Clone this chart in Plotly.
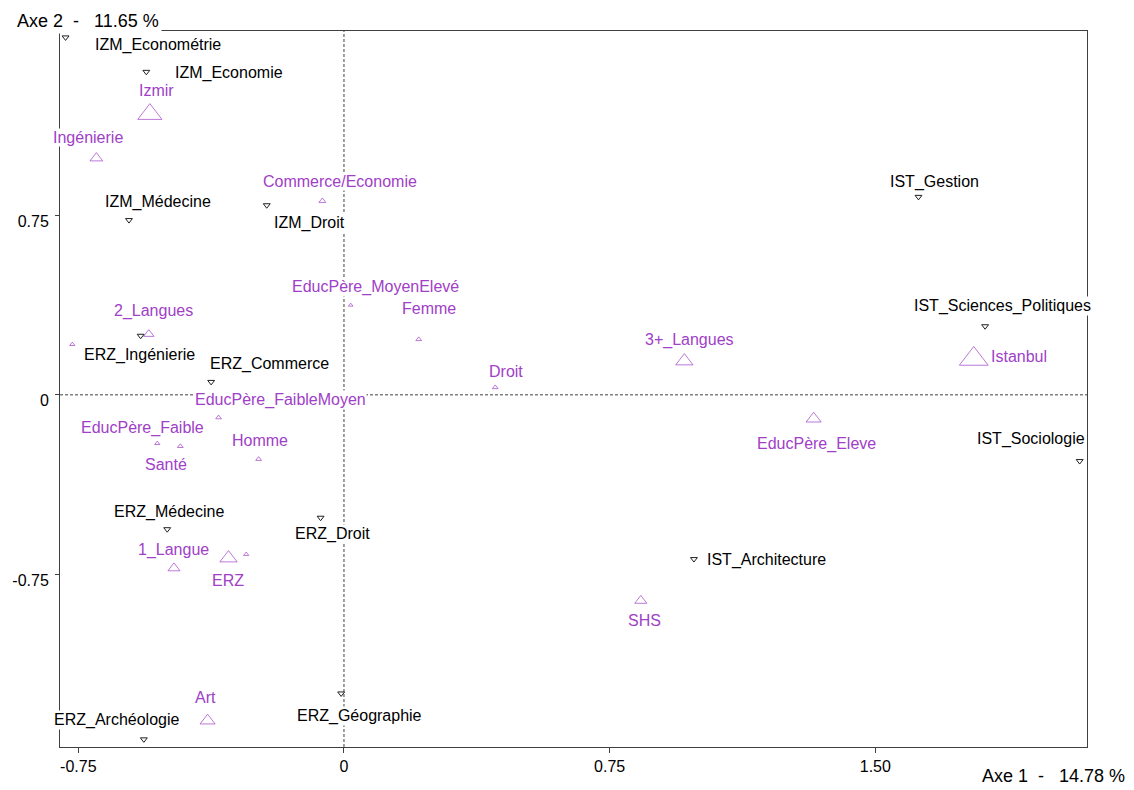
import plotly.graph_objects as go

# Etablissements (modalites actives) : coordonnees sur axe 1 / axe 2
inst_names = [
    "IZM_Econométrie", "IZM_Economie", "IZM_Médecine", "IZM_Droit",
    "ERZ_Ingénierie", "ERZ_Commerce", "ERZ_Médecine", "ERZ_Droit",
    "ERZ_Géographie", "ERZ_Archéologie",
    "IST_Gestion", "IST_Sciences_Politiques", "IST_Sociologie", "IST_Architecture",
]
inst_x = [-0.786, -0.558, -0.607, -0.218, -0.574, -0.375, -0.499, -0.066,
          -0.008, -0.565, 1.622, 1.810, 2.077, 0.988]
inst_y = [1.495, 1.351, 0.731, 0.793, 0.247, 0.054, -0.562, -0.514,
          -1.249, -1.441, 0.828, 0.287, -0.277, -0.687]

# Variables supplementaires
sup_names = [
    "Izmir", "Ingénierie", "Commerce/Economie", "EducPère_MoyenElevé", "Femme",
    "Droit", "2_Langues", "EducPère_FaibleMoyen", "EducPère_Faible", "Santé",
    "Homme", "1_Langue", "ERZ", "Art", "SHS", "3+_Langues", "EducPère_Eleve",
    "Istanbul", "", "",
]
sup_x = [-0.548, -0.699, -0.061, 0.019, 0.211, 0.427, -0.551, -0.354, -0.527, -0.462,
         -0.241, -0.480, -0.326, -0.385, 0.838, 0.961, 1.326, 1.778, -0.767, -0.276]
sup_y = [1.174, 0.990, 0.811, 0.375, 0.232, 0.031, 0.254, -0.095, -0.203, -0.215,
         -0.269, -0.725, -0.683, -1.363, -0.861, 0.141, -0.100, 0.150, 0.211, -0.667]

x_ticks = [-0.75, 0, 0.75, 1.5]
x_ticktext = ["-0.75", "0", "0.75", "1.50"]
y_ticks = [-0.75, 0, 0.75]
y_ticktext = ["-0.75", "0", "0.75"]

# style
sup_size = [21, 11, 6, 4, 5, 5, 9, 5, 4.5, 5, 5, 10.5, 15, 13, 10.5, 15, 13, 25, 4.5, 4.5]
purple = "#A040C8"
font = "Liberation Sans, Arial, sans-serif"
fs = 16

# decalage des etiquettes (px, dy vers le bas)
label_offset = {
    "IZM_Econométrie": (92, 8), "IZM_Economie": (83, 1), "IZM_Médecine": (29, -18),
    "IZM_Droit": (43, 18), "ERZ_Ingénierie": (-1, 19), "ERZ_Commerce": (58, -18),
    "ERZ_Médecine": (2, -17), "ERZ_Droit": (12, 16), "ERZ_Géographie": (18, 23),
    "ERZ_Archéologie": (-27, -19), "IST_Gestion": (16, -15),
    "IST_Sciences_Politiques": (17, -20), "IST_Sociologie": (-49, -22),
    "IST_Architecture": (73, 1),
    "Izmir": (7, -24), "Ingénierie": (-8, -21), "Commerce/Economie": (18, -19),
    "EducPère_MoyenElevé": (25, -18), "Femme": (10, -31), "Droit": (11, -16),
    "2_Langues": (5, -23), "EducPère_FaibleMoyen": (62, -18),
    "EducPère_Faible": (-15, -15), "Santé": (-14, 18), "Homme": (1, -19),
    "1_Langue": (0, -18), "ERZ": (-1, 22), "Art": (-2, -23), "SHS": (4, 20),
    "3+_Langues": (5, -21), "EducPère_Eleve": (3, 25), "Istanbul": (45, -2),
}

fig = go.Figure()

fig.add_trace(go.Scatter(
    x=sup_x, y=sup_y, mode="markers",
    marker=dict(symbol="triangle-up-open", size=sup_size, color=purple,
                line=dict(width=1, color=purple)),
    hoverinfo="skip",
))
fig.add_trace(go.Scatter(
    x=inst_x, y=inst_y, mode="markers",
    marker=dict(symbol="triangle-down-open", size=6, color="#202020",
                line=dict(width=1, color="#202020")),
    hoverinfo="skip",
))

# axes a zero en pointilles
fig.add_shape(type="line", xref="x", yref="paper", x0=0, x1=0, y0=0, y1=1,
              line=dict(color="#404040", width=1, dash="3px,2px"), layer="below")
fig.add_shape(type="line", xref="paper", yref="y", x0=0, x1=1, y0=0, y1=0,
              line=dict(color="#404040", width=1, dash="3px,2px"), layer="below")

def add_labels(names, xs, ys, color):
    for n, xv, yv in zip(names, xs, ys):
        if not n:
            continue
        dx, dy = label_offset[n]
        fig.add_annotation(
            x=xv, y=yv, xref="x", yref="y", text=n, showarrow=False,
            xanchor="center", yanchor="middle", xshift=dx, yshift=-dy,
            font=dict(color=color, size=fs, family=font),
            bgcolor="white", borderpad=0,
        )

add_labels(inst_names, inst_x, inst_y, "black")
add_labels(sup_names, sup_x, sup_y, purple)

fig.add_annotation(
    text="Axe 2\u00a0\u00a0-\u00a0\u00a0 11.65 %", xref="paper", yref="paper",
    x=-0.045, y=1, xanchor="left", yanchor="middle", yshift=10, showarrow=False,
    font=dict(color="black", size=18, family=font), bgcolor="white", borderpad=2,
)
fig.add_annotation(
    text="Axe 1\u00a0\u00a0-\u00a0\u00a0 14.78 %", xref="paper", yref="paper",
    x=1.039, y=0, xanchor="right", yanchor="middle", yshift=-29, showarrow=False,
    font=dict(color="black", size=18, family=font),
)

fig.update_xaxes(
    range=[-0.8017, 2.0977], showgrid=False, zeroline=False,
    showline=True, mirror=True, linecolor="#404040", linewidth=1,
    ticks="outside", ticklen=5, tickcolor="#404040",
    tickvals=x_ticks, ticktext=x_ticktext, ticklabelstandoff=0,
    tickfont=dict(size=fs, color="black", family=font),
)
fig.update_yaxes(
    range=[-1.473, 1.5218], showgrid=False, zeroline=False,
    showline=True, mirror=True, linecolor="#404040", linewidth=1,
    ticks="outside", ticklen=4, tickcolor="#404040",
    tickvals=y_ticks, ticktext=y_ticktext, ticklabelstandoff=3, ticklabelshift=6,
    tickfont=dict(size=fs, color="black", family=font),
)

fig.update_layout(
    width=1134, height=790,
    margin=dict(l=58, r=47, t=31, b=43),
    paper_bgcolor="white", plot_bgcolor="white",
    showlegend=False,
)

fig.write_html("out.html", config={"displayModeBar": False},
               post_script="document.body.style.margin='0';")
